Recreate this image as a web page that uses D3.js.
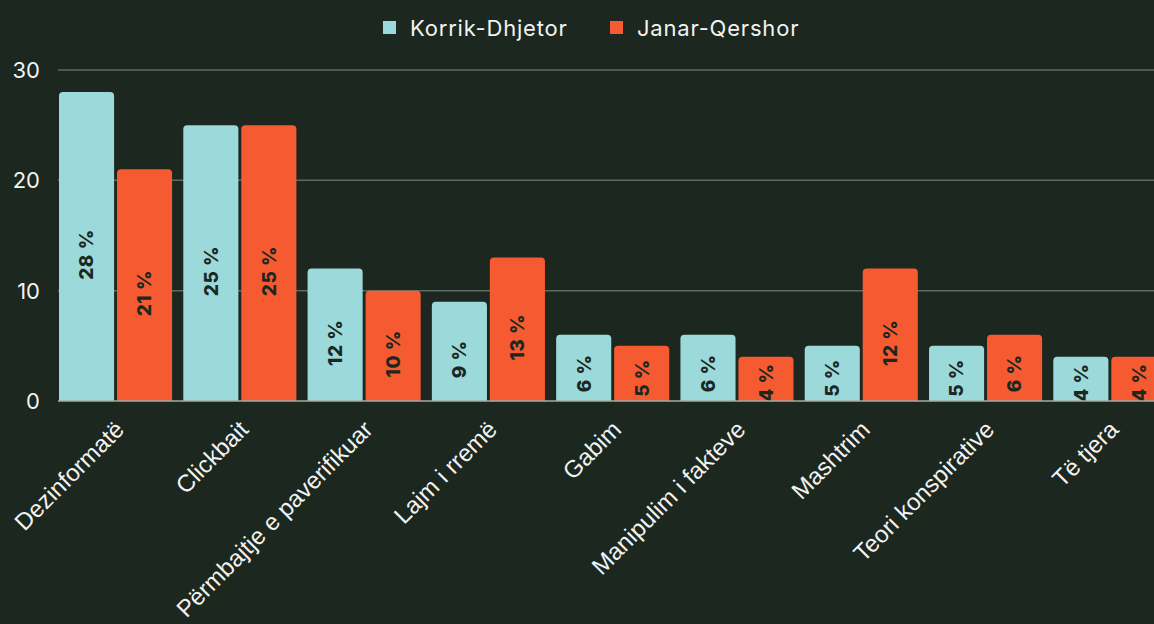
<!DOCTYPE html>
<html>
<head>
<meta charset="utf-8">
<script src="https://cdn.jsdelivr.net/npm/d3@7"></script>
<style>
  html, body { margin: 0; padding: 0; background: #1b271f; overflow: hidden; }
  svg { display: block; }
</style>
</head>
<body>
<div id="chart"></div>
<script>
const categories = ["Dezinformatë", "Clickbait", "Përmbajtje e paverifikuar", "Lajm i rremë", "Gabim",
  "Manipulim i fakteve", "Mashtrim", "Teori konspirative", "Të tjera"];
const seriesNames = ["Korrik-Dhjetor", "Janar-Qershor"];
const korrikDhjetor = [28, 25, 12, 9, 6, 6, 5, 5, 4];
const janarQershor = [21, 25, 10, 13, 5, 4, 12, 6, 4];
const yTicks = [0, 10, 20, 30];
const colors = ["#9bd9da", "#f65a30"];

const width = 1154, height = 624;
const margin = { top: 70, left: 58, bottom: 223 };

const svg = d3.select("#chart").append("svg")
  .attr("width", width)
  .attr("height", height);

const y = d3.scaleLinear().domain([0, 30]).range([height - margin.bottom, margin.top]);

// the plot runs past the right edge, last bar gets cut off like in the source
const x0 = d3.scaleBand().domain(categories)
  .range([53.4, 1172]).paddingInner(0.09).paddingOuter(0.045);
const x1 = d3.scaleBand().domain(seriesNames)
  .range([0, x0.bandwidth()]).paddingInner(0.05);

// grid lines
svg.append("g")
  .selectAll("line")
  .data(yTicks.filter(d => d > 0))
  .enter().append("line")
  .attr("x1", margin.left).attr("x2", width)
  .attr("y1", d => y(d)).attr("y2", d => y(d))
  .attr("stroke", "#5d6b61")
  .attr("stroke-width", 1.5);

// y tick labels
svg.append("g")
  .selectAll("text")
  .data(yTicks)
  .enter().append("text")
  .attr("x", 40)
  .attr("y", d => y(d))
  .attr("dy", "0.36em")
  .attr("text-anchor", "end")
  .attr("fill", "#f2f2f2")
  .style("font", "400 22px Inter, 'Noto Sans', sans-serif")
  .text(d => d);

const rows = categories.map((c, i) => ({
  cat: c,
  values: [korrikDhjetor[i], janarQershor[i]]
}));

function topRounded(x, yTop, w, yBot, r) {
  return `M${x},${yBot}V${yTop + r}Q${x},${yTop} ${x + r},${yTop}H${x + w - r}` +
    `Q${x + w},${yTop} ${x + w},${yTop + r}V${yBot}Z`;
}

const groups = svg.append("g")
  .selectAll("g")
  .data(rows)
  .enter().append("g")
  .attr("transform", d => `translate(${x0(d.cat)},0)`);

const bars = groups.selectAll("g.bar")
  .data(d => d.values.map((v, k) => ({ name: seriesNames[k], v, k })))
  .enter().append("g").attr("class", "bar");

bars.append("path")
  .attr("d", d => topRounded(x1(d.name), y(d.v), x1.bandwidth(), y(0), 4))
  .attr("fill", d => colors[d.k]);

bars.append("text")
  .attr("transform", d => {
    const cx = x1(d.name) + x1.bandwidth() / 2;
    const cy = (y(d.v) + y(0)) / 2 + Math.min(8, (y(0) - y(d.v)) / 12);
    return `translate(${cx},${cy}) rotate(-90)`;
  })
  .attr("text-anchor", "middle")
  .attr("dy", "0.36em")
  .attr("fill", "#1b271f")
  .style("font", "800 19px Inter, 'Noto Sans', sans-serif")
  .style("letter-spacing", "0.5px")
  .text(d => d.v + " %");

// baseline
svg.append("line")
  .attr("x1", margin.left).attr("x2", width)
  .attr("y1", y(0)).attr("y2", y(0))
  .attr("stroke", "#a3aba5")
  .attr("stroke-width", 1.5);

// category labels
svg.append("g")
  .selectAll("text")
  .data(categories)
  .enter().append("text")
  .attr("transform", d => `translate(${x0(d) + x0.bandwidth() / 2 + 10},${y(0) + 30}) rotate(-45)`)
  .attr("text-anchor", "end")
  .attr("fill", "#f2f2f2")
  .style("font", "400 24px 'Liberation Sans', Arial, sans-serif")
  .text(d => d);

// legend
const legend = svg.append("g");
const legendX = [383, 610];
seriesNames.forEach((name, k) => {
  legend.append("rect")
    .attr("x", legendX[k]).attr("y", 21)
    .attr("width", 13).attr("height", 13)
    .attr("fill", colors[k]);
  legend.append("text")
    .attr("x", legendX[k] + 27).attr("y", 28)
    .attr("dy", "0.36em")
    .attr("fill", "#f2f2f2")
    .style("font", "400 22px Inter, 'Noto Sans', sans-serif")
    .style("letter-spacing", "0.8px")
    .text(name);
});
</script>
</body>
</html>
